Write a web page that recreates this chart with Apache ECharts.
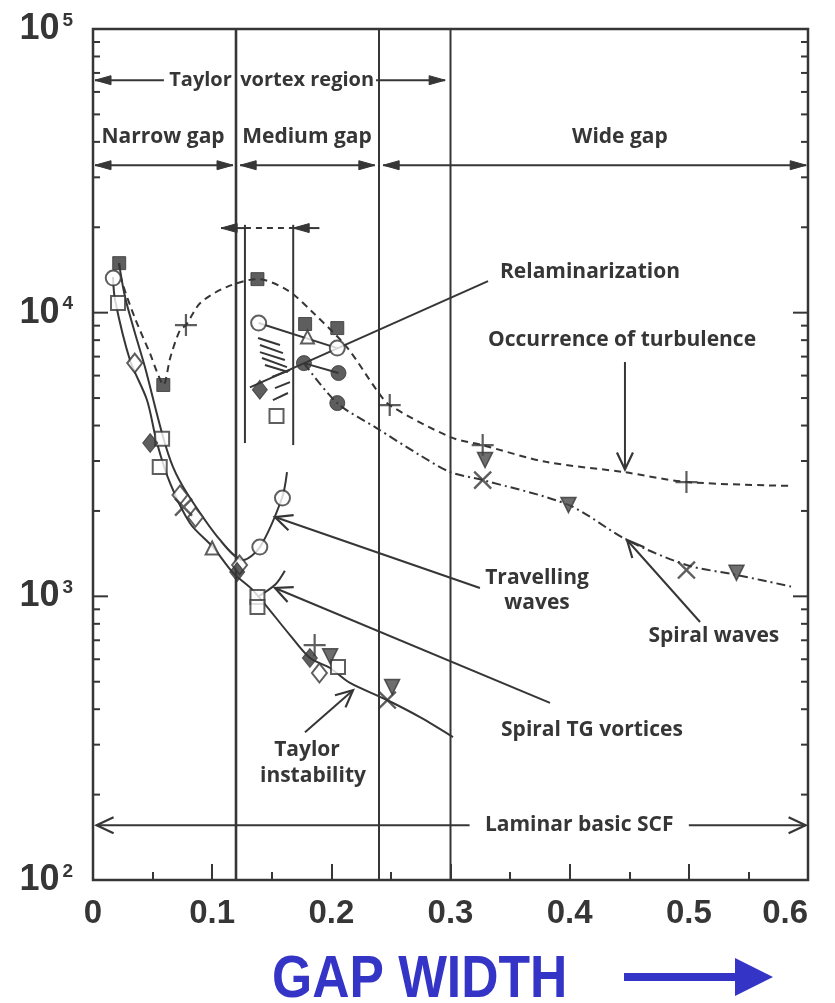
<!DOCTYPE html>
<html>
<head>
<meta charset="utf-8">
<script src="https://cdn.jsdelivr.net/npm/echarts@6/dist/echarts.min.js"></script>
<style>
  html, body { margin: 0; padding: 0; background: #fff; }
  #chart { width: 835px; height: 1003px; }
</style>
</head>
<body>
<div id="chart"></div>
<script>
// ---- Axis ticks ----
const X_TICKS = [0, 0.1, 0.2, 0.3, 0.4, 0.5, 0.6];
const Y_DECADES = [100, 1000, 10000, 100000];
const Y_MINOR_MULTS = [2, 3, 4, 5, 6, 7, 8, 9];

// Boundaries between narrow / medium / wide gap regimes
const regionBounds = [0.12, 0.24, 0.30];
// Extent of the relaminarization band
const relamBounds = [0.1275, 0.168];

// ---- Curves (gap width, critical Reynolds number) ----
const turbulenceCurve = [
  [0.022, 14950], [0.024, 13030], [0.035, 9610], [0.048, 7150], [0.054, 6130],
  [0.059, 5560], [0.065, 6980], [0.073, 8680], [0.078, 9040], [0.090, 10810],
  [0.112, 12310], [0.138, 13130], [0.163, 12010], [0.185, 9970], [0.213, 7560],
  [0.238, 5340], [0.249, 4720], [0.300, 3640], [0.327, 3410], [0.380, 2980],
  [0.446, 2740], [0.498, 2530], [0.587, 2450]
];
const spiralWavesCurve = [
  [0.177, 6640], [0.205, 4800], [0.238, 3920], [0.274, 3150], [0.300, 2740],
  [0.327, 2570], [0.399, 2100], [0.448, 1580], [0.498, 1290], [0.540, 1190], [0.587, 1080]
];
const taylorCurve = [
  [0.0168, 13350], [0.0185, 11080], [0.031, 6810], [0.0453, 4920], [0.0537, 3470],
  [0.0646, 2510], [0.0814, 1810], [0.1007, 1490], [0.1175, 1210], [0.1343, 1050],
  [0.1653, 730], [0.1821, 606], [0.1989, 559], [0.2157, 495], [0.2467, 431],
  [0.2744, 375], [0.3021, 319]
];
const travellingCurve = [
  [0.0218, 14950], [0.0269, 11350], [0.0352, 8475], [0.0436, 6430], [0.0579, 3760],
  [0.0671, 2860], [0.0789, 2310], [0.1066, 1580], [0.1259, 1343], [0.1401, 1492],
  [0.1586, 2221], [0.1628, 2743]
];
const relamOpenPair = [[0.139, 9190], [0.205, 7500]];
const relamFilledPair = [[0.177, 6640], [0.206, 6125]];
const spiralTGStub = [[0.138, 994], [0.153, 1100], [0.161, 1230]];

// ---- Measured points by symbol ----
const filledSquares = [[0.022, 14950], [0.059, 5560], [0.138, 13130], [0.178, 9120], [0.205, 8825]];
const openSquares = [[0.021, 10810], [0.058, 3590], [0.056, 2857], [0.138, 994], [0.138, 917], [0.154, 4320], [0.2056, 563]];
const openCircles = [[0.017, 13240], [0.139, 9190], [0.205, 7500], [0.140, 1492], [0.159, 2221]];
const filledCircles = [[0.177, 6640], [0.206, 6125], [0.205, 4800]];
const openDiamonds = [[0.035, 6640], [0.073, 2276], [0.086, 1900], [0.123, 1290], [0.190, 537]];
const filledDiamonds = [[0.048, 3470], [0.121, 1218], [0.182, 606], [0.140, 5350]];
const plusMarks = [[0.078, 9040], [0.249, 4724], [0.327, 3414], [0.498, 2529], [0.186, 673]];
const crossMarks = [[0.327, 2570], [0.498, 1238], [0.247, 431], [0.076, 2064]];
const downTriangles = [[0.329, 3022], [0.399, 2098], [0.540, 1210], [0.251, 479], [0.199, 615]];
const upTriangles = [[0.180, 8200], [0.100, 1480]];

// ---- Annotation texts ----
const notes = [
  { text: 'Taylor', x: 0.1165, y: 66000, align: 'right', size: 20 },
  { text: 'vortex region', x: 0.1235, y: 66000, align: 'left', size: 20 },
  { text: 'Narrow gap', x: 0.0588, y: 41600 },
  { text: 'Medium gap', x: 0.1796, y: 41600 },
  { text: 'Wide gap', x: 0.4422, y: 41600 },
  { text: 'Relaminarization', x: 0.3415, y: 13900, align: 'left' },
  { text: 'Occurrence of turbulence', x: 0.3315, y: 8005, align: 'left' },
  { text: 'Travelling', x: 0.3726, y: 1160 },
  { text: 'waves', x: 0.3726, y: 947 },
  { text: 'Spiral waves', x: 0.521, y: 724 },
  { text: 'Spiral TG vortices', x: 0.4187, y: 338 },
  { text: 'Taylor', x: 0.1796, y: 287 },
  { text: 'instability', x: 0.1846, y: 233 },
  { text: 'Laminar basic SCF', x: 0.408, y: 156 }
];

// ---- Guide lines and arrows (data coordinates) ----
const guides = [
  // Taylor vortex region
  { pts: [[0.0595, 66000], [0.0017, 66000]], head: 'end', hs: 'fill' },
  { pts: [[0.2375, 66000], [0.2955, 66000]], head: 'end', hs: 'fill' },
  // regime spans
  { pts: [[0.0017, 33100], [0.1175, 33100]], head: 'both', hs: 'fill' },
  { pts: [[0.1235, 33100], [0.2365, 33100]], head: 'both', hs: 'fill' },
  { pts: [[0.2435, 33100], [0.5985, 33100]], head: 'both', hs: 'fill' },
  // laminar basic flow
  { pts: [[0.316, 156], [0.003, 156]], head: 'end', hs: 'open' },
  { pts: [[0.500, 156], [0.598, 156]], head: 'end', hs: 'open' },
  // relaminarization band
  { pts: [[relamBounds[0], 20400], [relamBounds[0], 3470]] },
  { pts: [[relamBounds[1], 20400], [relamBounds[1], 3414]] },
  { pts: [[relamBounds[0], 19870], [0.1075, 19870]], head: 'end', hs: 'fill' },
  { pts: [[relamBounds[0], 19870], [relamBounds[1], 19870]], dash: [6, 5] },
  { pts: [[0.19, 19870], [relamBounds[1], 19870]], head: 'end', hs: 'fill' },
  { pts: [[0.1317, 5450], [0.3315, 12920]] },
  // hatching
  { pts: [[0.1385, 8140], [0.1569, 7690]] },
  { pts: [[0.1401, 7690], [0.1594, 7200]] },
  { pts: [[0.1401, 7260], [0.161, 6810]] },
  { pts: [[0.1418, 6920], [0.1628, 6430]] },
  { pts: [[0.1443, 6540], [0.1636, 6180]] },
  { pts: [[0.1502, 5930], [0.1653, 6280]] },
  { pts: [[0.1527, 5420], [0.1653, 5690]] },
  { pts: [[0.151, 4920], [0.1636, 5210]] },
  // pointers to curves
  { pts: [[0.4464, 6700], [0.4464, 2800]], head: 'end', hs: 'open' },
  { pts: [[0.3247, 1070], [0.1527, 1903]], head: 'end', hs: 'open' },
  { pts: [[0.3835, 421], [0.1527, 1070]], head: 'end', hs: 'open' },
  { pts: [[0.5094, 812], [0.4481, 1580]], head: 'end', hs: 'open' },
  { pts: [[0.1779, 332], [0.2182, 467]], head: 'end', hs: 'open' }
];

const INK = '#363636';
const BLUE = '#3434c6';
const TEXT_FONT = '"Open Sans", "Liberation Sans", sans-serif';
const NUM_FONT = '"Liberation Sans", Arial, sans-serif';

const chart = echarts.init(document.getElementById('chart'), null, { renderer: 'canvas' });

function arrowHead(tip, from, style) {
  const dx = tip[0] - from[0], dy = tip[1] - from[1];
  const d = Math.hypot(dx, dy) || 1;
  const ux = dx / d, uy = dy / d, nx = -uy, ny = ux;
  const len = style === 'fill' ? 16 : 17;
  const half = style === 'fill' ? 4.5 : 8;
  const bx = tip[0] - ux * len, by = tip[1] - uy * len;
  const a = [bx + nx * half, by + ny * half], b = [bx - nx * half, by - ny * half];
  if (style === 'fill') {
    return { type: 'polygon', shape: { points: [tip, a, b] }, style: { fill: INK, stroke: INK, lineWidth: 1 } };
  }
  return { type: 'polyline', shape: { points: [a, tip, b] }, style: { fill: null, stroke: INK, lineWidth: 2.2 } };
}

function renderAnnotations(params, api) {
  const kids = [];
  // regime boundaries, full height
  regionBounds.forEach((xv, i) => {
    const a = api.coord([xv, 100]), b = api.coord([xv, 100000]);
    kids.push({ type: 'line', shape: { x1: a[0], y1: a[1], x2: b[0], y2: b[1] },
      style: { stroke: INK, lineWidth: i === 0 ? 2.6 : 2 } });
  });
  guides.forEach(g => {
    const pts = g.pts.map(p => api.coord(p));
    kids.push({ type: 'polyline', shape: { points: pts },
      style: { fill: null, stroke: INK, lineWidth: 2, lineDash: g.dash || null } });
    if (g.head === 'end' || g.head === 'both') kids.push(arrowHead(pts[pts.length - 1], pts[pts.length - 2], g.hs));
    if (g.head === 'start' || g.head === 'both') kids.push(arrowHead(pts[0], pts[1], g.hs));
  });
  notes.forEach(n => {
    const p = api.coord([n.x, n.y]);
    kids.push({ type: 'text', x: p[0], y: p[1],
      style: { text: n.text, fill: INK, font: 'bold ' + (n.size || 21) + 'px ' + TEXT_FONT,
        align: n.align || 'center', verticalAlign: 'middle' } });
  });
  return { type: 'group', children: kids };
}

function renderYTicks(params, api) {
  const kids = [];
  const xl = api.coord([0, 100])[0], xr = api.coord([0.6, 100])[0];
  const add = (v, len) => {
    const y = api.coord([0, v])[1];
    kids.push({ type: 'line', shape: { x1: xl, y1: y, x2: xl + len, y2: y }, style: { stroke: INK, lineWidth: 2 } });
    kids.push({ type: 'line', shape: { x1: xr, y1: y, x2: xr - len, y2: y }, style: { stroke: INK, lineWidth: 2 } });
  };
  Y_DECADES.forEach(d => {
    add(d, 15);
    if (d < 100000) Y_MINOR_MULTS.forEach(m => add(m * d, 7));
  });
  return { type: 'group', children: kids };
}

const openStyle = { color: '#fff', borderColor: INK, borderWidth: 2 };
const filledStyle = { color: INK, borderColor: INK, borderWidth: 1 };
const PLUS = 'path://M9,0H11V9H20V11H11V20H9V11H0V9H9Z';

function curve(name, data, type, width) {
  return { name, type: 'line', data, smooth: 0.3, symbol: 'none', z: 3,
    lineStyle: { color: INK, width: width || 2, type: type || 'solid' } };
}
function points(name, data, symbol, size, style, rotate) {
  return { name, type: 'scatter', data, symbol, symbolSize: size, symbolRotate: rotate || 0,
    itemStyle: style, z: 5 };
}

const option = {
  animation: false,
  backgroundColor: '#fff',
  grid: { left: 93, right: 27, top: 29, bottom: 123, show: true,
    borderColor: INK, borderWidth: 2.5, backgroundColor: 'transparent' },
  xAxis: {
    type: 'value', min: X_TICKS[0], max: X_TICKS[X_TICKS.length - 1], interval: 0.1,
    axisLine: { show: false }, splitLine: { show: false },
    axisTick: { show: true, inside: true, length: 16, lineStyle: { color: INK, width: 2 } },
    minorTick: { show: true, splitNumber: 2, length: 8, lineStyle: { color: INK, width: 2 } },
    minorSplitLine: { show: false },
    axisLabel: {
      formatter: v => (v === 0 ? '0' : v.toFixed(1)),
      alignMaxLabel: 'right',
      color: INK, fontSize: 33, fontWeight: 'bold', fontFamily: NUM_FONT, margin: 17
    }
  },
  yAxis: {
    type: 'log', logBase: 10, min: Y_DECADES[0], max: Y_DECADES[Y_DECADES.length - 1],
    axisLine: { show: false }, axisTick: { show: false }, splitLine: { show: false },
    axisLabel: {
      margin: 20,
      formatter: v => '{b|10}{s|' + Math.round(Math.log10(v)) + '}',
      rich: {
        b: { fontSize: 36, fontWeight: 'bold', color: INK, fontFamily: NUM_FONT, lineHeight: 36 },
        s: { fontSize: 19, fontWeight: 'bold', color: INK, fontFamily: NUM_FONT, verticalAlign: 'top', lineHeight: 19, padding: [0, 0, 0, 3] }
      }
    }
  },
  graphic: [
    { type: 'text', x: 272, y: 950, scaleX: 0.86,
      style: { text: 'GAP WIDTH', fill: BLUE, verticalAlign: 'top',
        font: 'bold 60px "Liberation Sans Narrow", "Liberation Sans", sans-serif' } },
    { type: 'rect', shape: { x: 624, y: 973, width: 114, height: 8 }, style: { fill: BLUE } },
    { type: 'polygon', shape: { points: [[735, 958], [773, 977], [735, 996]] }, style: { fill: BLUE } }
  ],
  series: [
    { type: 'custom', name: 'yTicks', renderItem: renderYTicks, data: [[0, 100]], silent: true, clip: false, z: 2 },
    { type: 'custom', name: 'annotations', renderItem: renderAnnotations, data: [[0, 100]], silent: true, clip: false, z: 2 },
    curve('Occurrence of turbulence', turbulenceCurve, [7, 5]),
    curve('Spiral waves', spiralWavesCurve, [9, 4, 2, 4]),
    curve('Taylor instability', taylorCurve),
    curve('Travelling waves', travellingCurve),
    curve('Relaminarization (open)', relamOpenPair),
    curve('Relaminarization (filled)', relamFilledPair),
    curve('Spiral TG vortices', spiralTGStub),
    points('filled squares', filledSquares, 'rect', 13, filledStyle),
    points('open squares', openSquares, 'rect', 14, openStyle),
    points('open circles', openCircles, 'circle', 15, openStyle),
    points('filled circles', filledCircles, 'circle', 15, filledStyle),
    points('open diamonds', openDiamonds, 'diamond', [15, 19], openStyle),
    points('filled diamonds', filledDiamonds, 'diamond', [15, 19], filledStyle),
    points('plus', plusMarks, PLUS, 22, { color: INK }),
    points('cross', crossMarks, PLUS, 24, { color: INK }, 45),
    points('down triangles', downTriangles, 'triangle', 15, { color: '#4a4a4a', borderColor: INK, borderWidth: 1.5 }, 180),
    points('up triangles', upTriangles, 'triangle', 13, openStyle)
  ]
};

chart.setOption(option);
</script>
</body>
</html>
